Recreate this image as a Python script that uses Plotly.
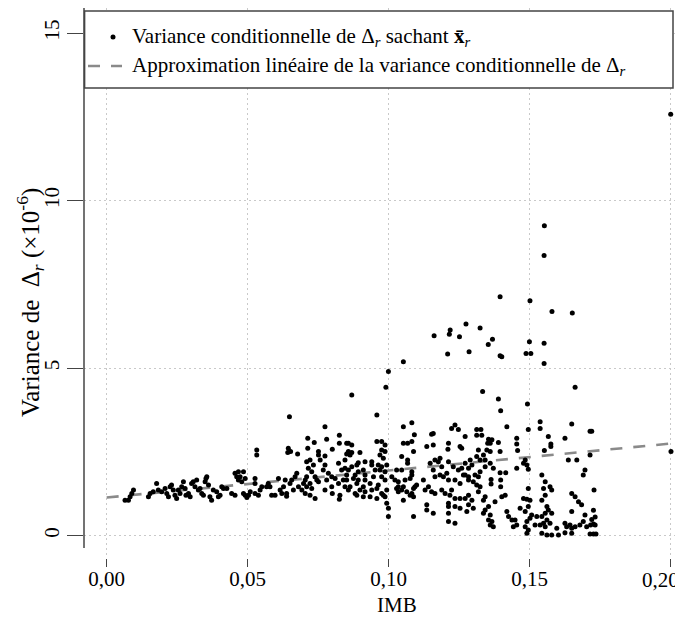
import plotly.graph_objects as go

# ---- data (IMB, variance x1e-6), grouped by IMB band ----
band_a = [(0.0065,1.06),(0.0077,1.06),(0.0083,1.16),(0.0089,1.26),(0.0095,1.36),(0.0148,1.16),(0.0154,1.26),
          (0.0165,1.31),(0.0177,1.56),(0.0183,1.36),(0.0195,1.31),(0.0207,1.41),(0.0213,1.26),(0.0219,1.16),
          (0.0225,1.46),(0.0230,1.51),(0.0236,1.36),(0.0242,1.21),(0.0248,1.11),(0.0254,1.36),(0.0260,1.26),
          (0.0266,1.46),(0.0272,1.61),(0.0278,1.41),(0.0281,1.21),(0.0290,1.26),(0.0296,1.16),(0.0301,1.56),
          (0.0307,1.61),(0.0313,1.46),(0.0319,1.66),(0.0325,1.36),(0.0331,1.41),(0.0337,1.26),(0.0343,1.21),
          (0.0349,1.61),(0.0352,1.71),(0.0355,1.76),(0.0361,1.51),(0.0366,1.16),(0.0372,1.06),(0.0378,1.36),
          (0.0390,1.31),(0.0396,1.16),(0.0402,1.21),(0.0408,1.46),(0.0414,1.41),(0.0426,1.41)]

band_b = [(0.0443,1.26),(0.0455,1.21),(0.0455,1.86),(0.0467,1.91),(0.0485,1.91),(0.0461,1.76),(0.0473,1.76),
          (0.0491,1.71),(0.0467,1.66),(0.0479,1.61),(0.0485,1.26),(0.0491,1.21),(0.0497,1.14),(0.0503,1.21),
          (0.0509,1.31),(0.0526,1.71),(0.0526,1.56),(0.0526,1.26),(0.0532,2.56),(0.0532,2.41),(0.0538,1.21),
          (0.0544,1.36),(0.0550,1.46),(0.0567,1.46),(0.0573,1.56),(0.0579,1.46),(0.0585,1.21),(0.0597,1.21),
          (0.0609,1.71),(0.0615,1.36),(0.0621,1.26),(0.0627,1.46),(0.0633,1.66),(0.0638,1.26),(0.0638,1.18),
          (0.0644,2.61),(0.0648,3.55),(0.0652,2.51),(0.0642,2.48),(0.0650,1.56),(0.0656,1.66),(0.0662,1.36),
          (0.0668,1.76),(0.0674,1.86),(0.0677,2.44),(0.0680,1.46),(0.0692,1.36),(0.0698,1.56),(0.0704,1.66),
          (0.0704,1.26),(0.0709,2.21),(0.0709,1.76),(0.0709,1.46),(0.0713,2.91),(0.0713,2.61),(0.0715,2.01),
          (0.0721,2.26),(0.0721,1.56),(0.0721,1.21),(0.0727,1.91),(0.0727,1.41),(0.0733,2.11),(0.0736,2.78),
          (0.0739,1.76),(0.0739,1.11),(0.0745,1.66),(0.0751,2.51),(0.0751,2.41),(0.0751,1.61),(0.0757,2.26),
          (0.0768,1.96),(0.0774,3.25),(0.0774,2.38),(0.0774,2.11),(0.0774,1.36),(0.0780,2.88),(0.0780,1.66),
          (0.0786,1.86),(0.0798,1.76),(0.0798,1.46),(0.0800,2.58),(0.0800,1.26),(0.0810,1.71),(0.0822,2.16),
          (0.0822,1.56),(0.0825,3.00),(0.0825,2.76),(0.0825,1.09),(0.0827,1.21),(0.0833,1.96),(0.0839,1.66),
          (0.0845,2.26),(0.0851,2.76),(0.0851,1.81)]

band_c = [(0.0869,4.20),(0.0990,4.43),(0.0958,3.60),(0.0999,4.90),(0.1052,5.19),
          (0.0857,2.76),(0.0869,2.71),(0.0857,2.51),(0.0869,2.48),(0.0863,2.41),(0.0851,2.44),(0.0898,2.48),
          (0.0892,2.18),(0.0916,2.21),(0.0845,2.01),(0.0857,1.96),(0.0869,2.06),(0.0887,2.11),(0.0892,1.91),
          (0.0910,1.96),(0.0916,1.81),(0.0881,1.81),(0.0875,1.71),(0.0851,1.66),(0.0845,1.46),(0.0863,1.46),
          (0.0887,1.56),(0.0892,1.66),(0.0898,1.36),(0.0910,1.46),(0.0916,1.66),(0.0934,1.56),(0.0946,1.76),
          (0.0952,1.96),(0.0940,2.21),(0.0940,2.11),(0.0963,2.11),(0.0969,1.96),(0.0975,2.06),(0.0987,1.91),
          (0.0993,2.11),(0.0981,2.31),(0.0975,2.56),(0.0987,2.71),(0.0975,2.81),(0.0958,2.81),(0.0987,2.51),
          (0.0969,2.41),(0.0857,1.36),(0.0881,1.26),(0.0887,1.21),(0.0910,1.16),(0.0916,1.31),(0.0934,1.16),
          (0.0958,1.11),(0.0940,1.36),(0.0958,1.41),(0.0963,1.51),(0.0975,1.26),(0.0981,1.21),(0.0987,1.16),
          (0.0993,1.36),(0.0993,0.97),(0.0999,0.82),(0.0999,0.57),(0.0987,1.66),(0.0975,1.76),
          (0.1052,3.25),(0.1082,3.37),(0.1052,2.76),(0.1067,2.76),(0.1082,2.81),(0.1091,3.01),(0.1088,2.51),
          (0.1046,2.36),(0.1067,2.26),(0.1067,2.16),(0.1028,1.96),(0.1046,1.96),(0.1011,1.76),(0.1022,1.66),
          (0.1034,1.61),(0.1034,1.46),(0.1052,1.46),(0.1058,1.66),(0.1076,1.71),(0.1082,1.81),(0.1082,1.91),
          (0.1088,1.41),(0.1093,1.46),(0.1099,1.51),(0.1082,1.26),(0.1076,1.21),(0.1088,1.16),(0.1064,1.31),
          (0.1046,1.36),(0.1034,1.31),(0.1028,1.41),(0.1052,1.06),(0.1088,0.57),(0.1123,1.66),(0.1129,1.36),
          (0.1141,1.46),(0.1158,1.96),(0.1164,1.76),(0.1147,2.16),(0.1135,2.66),(0.1158,2.71),(0.1158,3.05),
          (0.1152,3.03),(0.1164,2.26),(0.1176,2.21),(0.1182,2.31),(0.1188,2.06),(0.1182,1.81),(0.1194,1.76),
          (0.1212,2.21),(0.1206,1.86),(0.1212,1.66),(0.1223,1.36),(0.1235,1.66),(0.1253,1.56),(0.1229,2.06),
          (0.1247,1.96),(0.1259,2.01),(0.1265,1.81),(0.1271,2.96),(0.1253,2.66),(0.1259,2.61),(0.1212,2.76),
          (0.1210,2.58),(0.1223,3.20),(0.1235,3.30),(0.1247,3.17),(0.1200,1.26),(0.1188,1.36),(0.1164,1.26),
          (0.1152,1.31),(0.1135,0.92),(0.1135,0.77),(0.1158,0.67),(0.1212,0.97),(0.1212,0.87),(0.1235,0.87),
          (0.1253,0.82),(0.1212,0.67),(0.1212,0.42),(0.1235,0.37),(0.1217,1.21),(0.1235,1.11),(0.1253,1.11),
          (0.1161,5.97),(0.1218,6.14),(0.1215,6.01),(0.1251,5.94),(0.1274,6.32),(0.1209,5.42),(0.1285,5.49)]

band_d = [(0.1333,4.30),(0.1389,4.08),(0.1397,3.73),(0.1492,3.93),(0.1661,4.43),(0.1419,3.25),(0.1537,3.40),
          (0.1537,3.20),(0.1495,3.17),(0.1649,3.33),(0.1625,2.91),(0.1566,2.96),(0.1575,2.74),(0.1575,2.66),
          (0.1552,2.54),(0.1714,3.12),(0.1312,3.17),(0.1327,3.17),(0.1312,3.00),(0.1330,3.00),(0.1354,2.88),
          (0.1366,2.86),(0.1360,2.76),(0.1351,2.76),(0.1348,2.56),(0.1360,2.51),(0.1389,2.78),(0.1395,2.51),
          (0.1454,2.91),(0.1454,2.74),(0.1457,2.54),(0.1318,2.56),(0.1312,2.36),(0.1324,2.26),(0.1336,2.41),
          (0.1289,2.26),(0.1271,2.16),(0.1295,2.11),(0.1283,2.01),(0.1342,2.06),(0.1360,2.16),(0.1371,2.01),
          (0.1342,2.26),(0.1271,1.81),(0.1283,1.76),(0.1306,1.81),(0.1318,1.76),(0.1324,1.91),(0.1363,1.68),
          (0.1363,1.54),(0.1395,1.88),(0.1415,1.88),(0.1397,1.66),(0.1397,1.46),(0.1454,2.01),(0.1484,2.26),
          (0.1490,2.11),(0.1478,2.16),(0.1495,1.98),(0.1495,1.41),(0.1283,1.66),(0.1300,1.61),(0.1312,1.51),
          (0.1324,1.46),(0.1318,1.31),(0.1283,1.21),(0.1271,1.11),(0.1295,1.06),(0.1283,0.92),(0.1300,0.82),
          (0.1277,0.72),(0.1342,1.16),(0.1336,1.06),(0.1354,0.87),(0.1342,0.77),(0.1336,0.67),(0.1360,0.62),
          (0.1354,0.47),(0.1366,0.42),(0.1360,0.32),(0.1371,0.27),(0.1377,1.01),(0.1401,1.16),(0.1413,1.21),
          (0.1419,0.72),(0.1425,0.57),(0.1437,0.47),(0.1442,0.27),(0.1454,0.32),(0.1448,0.47),(0.1466,0.82),
          (0.1484,0.72),(0.1495,0.87),(0.1501,1.06),(0.1478,1.11),(0.1490,1.09),(0.1507,0.62),(0.1490,0.42),
          (0.1484,0.27),(0.1495,0.17),(0.1490,0.07),(0.1519,0.32),(0.1501,0.52),(0.1525,0.57),(0.1543,1.81),
          (0.1555,1.61),(0.1549,1.41),(0.1572,1.46),(0.1578,1.36),(0.1555,1.21),(0.1543,1.06),(0.1561,0.87),
          (0.1566,0.77),(0.1555,0.67),(0.1543,0.57),(0.1561,0.47),(0.1549,0.37),(0.1537,0.32),(0.1555,0.27),
          (0.1572,0.37),(0.1578,0.67),(0.1543,0.07),(0.1561,0.02),(0.1578,0.02),(0.1602,0.02),(0.1596,0.22),
          (0.1625,0.37),(0.1631,0.27),(0.1643,0.32),(0.1649,0.22),(0.1649,0.07),(0.1625,0.09),(0.1661,0.27),
          (0.1678,0.32),(0.1690,0.42),(0.1702,0.27),(0.1696,0.62),(0.1673,1.01),(0.1649,1.26),(0.1661,1.16),
          (0.1684,0.92),(0.1649,0.72),(0.1696,1.96),(0.1690,1.81),(0.1714,2.41),(0.1667,2.26),(0.1637,2.26)]

band_e = [(0.1551,8.36),(0.1552,9.25),(0.1395,7.13),(0.1501,7.01),(0.1579,6.69),(0.1651,6.65),(0.1324,6.20),
          (0.1368,5.86),(0.1353,5.71),(0.1395,5.37),(0.1401,5.34),(0.1487,5.44),(0.1504,5.44),(0.1499,5.79),
          (0.1551,5.74),(0.1551,5.14),(0.1720,3.12),(0.1728,1.36),(0.1726,0.76),(0.1732,0.56),(0.1720,0.48),
          (0.1726,0.35),(0.1732,0.32),(0.1716,0.32),(0.1726,0.05),(0.1735,0.05),(0.1714,0.05),(0.2001,2.51),
          (0.2031,0.09),(0.2000,12.58)]

# linear approximation (end points of the dashed line)
fit_imb = [0.0, 0.205]
fit_var = [1.14, 2.79]

x_ticks = [0.0, 0.05, 0.10, 0.15, 0.20]
x_ticklabels = ["0,00", "0,05", "0,10", "0,15", "0,20"]
y_ticks = [0, 5, 10, 15]
y_ticklabels = ["0", "5", "10", "15"]

legend_points = "Variance conditionnelle de Δ<sub><i>r</i></sub> sachant <b>x̄</b><sub><i>r</i></sub>"
legend_line = "Approximation linéaire de la variance conditionnelle de Δ<sub><i>r</i></sub>"
x_title = "IMB"
y_title = "Variance de  Δ<sub><i>r</i></sub> (×10<sup>-6</sup>)"

pts = band_a + band_b + band_c + band_d + band_e
imb = [p[0] for p in pts]
var = [p[1] for p in pts]

FONT = "Liberation Serif, Times New Roman, Times, DejaVu Serif, serif"
AX = "#444444"
OFF = 8                      # the page body adds an 8px margin around the figure
WIN_W, WIN_H = 683, 622
W, H = WIN_W - OFF, WIN_H - OFF
PLOT_L, PLOT_R, PLOT_T, PLOT_B = 84, 683, 8, 558   # plot area in window pixels
ML, MR, MT, MB = PLOT_L - OFF, WIN_W - PLOT_R, PLOT_T - OFF, WIN_H - PLOT_B
PW, PH = PLOT_R - PLOT_L, PLOT_B - PLOT_T


def px(xp):
    return (xp - PLOT_L) / PW


def py(yp):
    return (PLOT_B - yp) / PH


# the last x tick label sits against the right edge; it is drawn as an annotation
axis_ticktext = x_ticklabels[:-1] + [""]

fig = go.Figure()
fig.add_trace(go.Scatter(x=fit_imb, y=fit_var, mode="lines",
                         line=dict(color="#8a8a8a", width=2.6, dash="12px,11px"),
                         showlegend=False, hoverinfo="skip"))
fig.add_trace(go.Scatter(x=imb, y=var, mode="markers",
                         marker=dict(color="black", size=5, symbol="circle"),
                         showlegend=False))

fig.update_layout(
    width=W, height=H,
    margin=dict(l=ML, r=MR, t=MT, b=MB, pad=0, autoexpand=False),
    paper_bgcolor="white", plot_bgcolor="white",
    font=dict(family=FONT, size=21, color="black"),
    showlegend=False,
)
fig.update_xaxes(range=[-0.00805, 0.20436], tickvals=x_ticks, ticktext=axis_ticktext, automargin=False,
                 showline=False, zeroline=False, ticks="outside", ticklen=8, tickwidth=1,
                 tickcolor=AX, showgrid=True, gridcolor="#c9c9c9", gridwidth=1, griddash="2px,3px",
                 ticklabelstandoff=-6, ticklabeloverflow="allow",
                 tickfont=dict(family=FONT, size=21, color="black"))
fig.update_yaxes(range=[-0.666, 15.75], tickvals=y_ticks, ticktext=y_ticklabels, automargin=False,
                 showline=False, zeroline=False, ticks="outside", ticklen=16, tickwidth=1,
                 tickcolor=AX, showgrid=True, gridcolor="#c9c9c9", gridwidth=1, griddash="2px,3px",
                 tickangle=-90, ticklabeloverflow="allow",
                 tickfont=dict(family=FONT, size=21, color="black"))

shapes = [
    # left axis line
    dict(type="line", xref="paper", yref="paper", x0=0, x1=0, y0=py(548), y1=1.0,
         line=dict(color=AX, width=1.5), layer="above"),
    # legend box
    dict(type="rect", xref="paper", yref="paper", x0=px(84.6), x1=px(673), y0=py(88), y1=py(11),
         fillcolor="white", line=dict(color=AX, width=1.5), layer="above"),
    # legend dot
    dict(type="circle", xref="paper", yref="paper", x0=px(110.5), x1=px(115.5), y0=py(39.5), y1=py(34.5),
         fillcolor="black", line=dict(color="black", width=0), layer="above"),
    # legend dash
    dict(type="line", xref="paper", yref="paper", x0=px(88), x1=px(122), y0=py(66), y1=py(66),
         line=dict(color="#8a8a8a", width=2.6, dash="12px,11px"), layer="above"),
]
fig.update_layout(shapes=shapes)

annotations = [
    dict(text=legend_points, xref="paper", yref="paper", x=px(130), y=py(37), xanchor="left",
         yanchor="middle", showarrow=False, font=dict(family=FONT, size=21, color="black")),
    dict(text=legend_line, xref="paper", yref="paper", x=px(130), y=py(66), xanchor="left",
         yanchor="middle", showarrow=False, font=dict(family=FONT, size=21, color="black")),
    dict(text=x_ticklabels[-1], xref="paper", yref="paper", x=px(681), y=py(580), xanchor="right",
         yanchor="middle", showarrow=False, font=dict(family=FONT, size=21, color="black")),
    dict(text=x_title, xref="paper", yref="paper", x=px(397), y=py(605), xanchor="center",
         yanchor="middle", showarrow=False, font=dict(family=FONT, size=21, color="black")),
    dict(text=y_title, xref="paper", yref="paper", x=px(30), y=py(303), xanchor="center",
         yanchor="middle", textangle=-90, showarrow=False, font=dict(family=FONT, size=25, color="black")),
]
fig.update_layout(annotations=annotations)

fig.write_html("out.html")
